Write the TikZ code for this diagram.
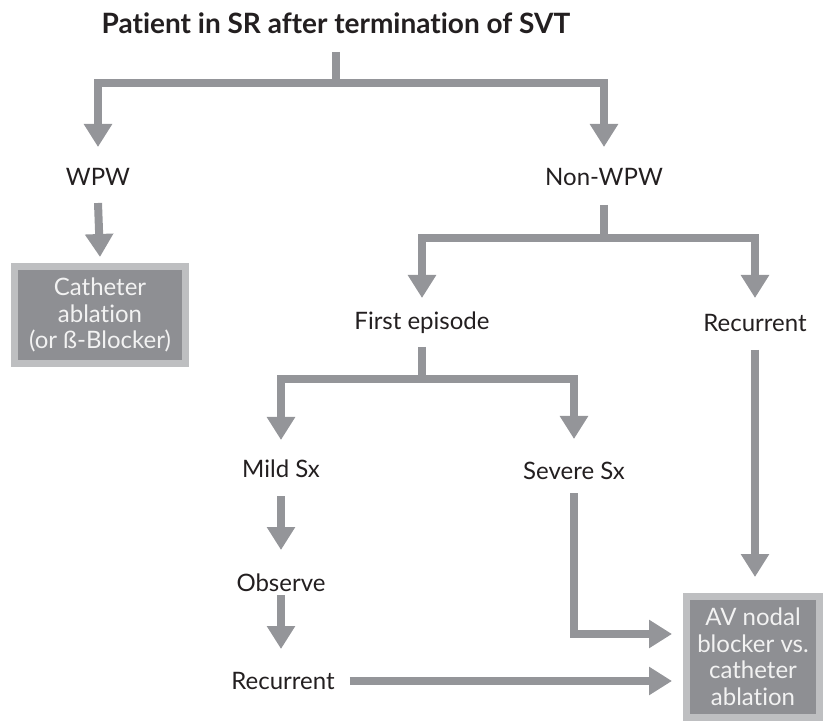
\documentclass[tikz,border=0pt]{standalone}
\usepackage{fontspec}
\setmainfont{Lato}[Ligatures={NoCommon}]
\usepackage{xcolor}
\usetikzlibrary{arrows.meta, positioning}

\definecolor{linkgray}{HTML}{949599}
\definecolor{framegray}{HTML}{BEBFC1}
\definecolor{fillgray}{HTML}{8E8F93}
\definecolor{inkdark}{HTML}{231F20}

\begin{document}
\begin{tikzpicture}[
    x=1pt, y=-1pt,
    lbl/.style={inner sep=0pt, text=inkdark, font=\fontsize{24}{28}\selectfont},
    headline/.style={inner sep=0pt, text=inkdark, font=\fontsize{28}{32}\selectfont\bfseries},
    result/.style={rectangle, draw=framegray, fill=fillgray, line width=7pt, align=center, text=white!95!black, font=\fontsize{24}{26.5}\selectfont, inner sep=0pt},
    link/.style={draw=linkgray, line width=8pt},
    arrow/.style={link, -{Triangle[width=27pt, length=23pt]}}
]
\useasboundingbox (0,0) rectangle (823,722);

\node[headline] (title) at (336,23) {Patient in SR after termination of SVT};
\node[lbl] (wpw) at (98,177) {WPW};
\node[lbl] (nonwpw) at (604,177) {Non-WPW};
\node[result, minimum width=171pt, minimum height=97pt] (cath) at (100,315) {Catheter\\ablation\\(or ß-Blocker)};
\node[lbl] (first) at (422,323) {First episode};
\node[lbl] (recur) at (755,323) {Recurrent};
\node[lbl] (mild) at (281,469) {Mild Sx};
\node[lbl] (severe) at (574,471) {Severe Sx};
\node[lbl] (observe) at (281,583) {Observe};
\node[lbl] (recurtwo) at (283,681) {Recurrent};
\node[result, minimum width=133pt, minimum height=121pt] (avblock) at (753,657) {AV nodal\\blocker vs.\\catheter\\ablation};

% branch points
\coordinate (split0) at (336,83);
\coordinate (split1) at (604,238);
\coordinate (split2) at (422,379);

\draw[link] ([yshift=-29pt]title.center) -- (split0);
\draw[arrow] (split0) -| ([yshift=30pt]wpw.center);
\draw[arrow] (split0) -| ([yshift=30pt]nonwpw.center);
\draw[arrow] ([yshift=-26pt]wpw.center) -- ([yshift=6pt]cath.north);

\draw[link] ([yshift=-28pt]nonwpw.center) -- (split1);
\draw[arrow] (split1) -| ([yshift=25pt]first.center);
\draw[arrow] (split1) -| ([yshift=25pt]recur.center);
\draw[arrow] ([yshift=-27pt]recur.center) -- ([yshift=16pt]avblock.north -| recur);

\draw[link] ([yshift=-24pt]first.center) -- (split2);
\draw[arrow] (split2) -| ([yshift=29pt]mild.center);
\draw[arrow] (split2) -| ([yshift=32pt]severe.center);

\draw[arrow] ([yshift=-27pt]mild.center) -- ([yshift=33pt]observe.center);
\draw[arrow] ([yshift=-12pt]observe.center) -- ([yshift=32pt]observe.center |- recurtwo.center);
\draw[arrow, shorten >=11pt] ([xshift=15pt]recurtwo.east) -- (avblock.west |- recurtwo.center);
\draw[arrow, shorten >=11pt] ([yshift=-22pt]severe.center) |- ([yshift=23pt]avblock.west);
\end{tikzpicture}
\end{document}
